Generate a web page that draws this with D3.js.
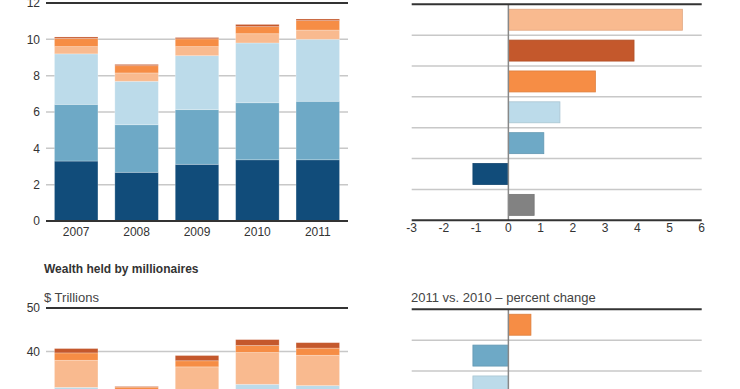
<!DOCTYPE html>
<html>
<head>
<meta charset="utf-8">
<script src="https://cdnjs.cloudflare.com/ajax/libs/d3/7.8.5/d3.min.js"></script>
<style>
  html, body { margin: 0; padding: 0; background: #fff; overflow: hidden; }
  svg { display: block; font-family: "Liberation Sans", Arial, sans-serif; }
</style>
</head>
<body>
<svg id="chart" width="740" height="389"></svg>
<script>
// Millionaires: count (top) and wealth held (bottom), stacked by group,
// plus 2011 vs. 2010 percent change bars on the right.

const years = ['2007', '2008', '2009', '2010', '2011'];
const seriesKeys = ['navy', 'steel', 'sky', 'peach', 'orange', 'rust'];

// number of millionaires, stacked bottom to top
const countNavy   = [3.30, 2.68, 3.12, 3.37, 3.37];
const countSteel  = [3.12, 2.62, 3.01, 3.14, 3.22];
const countSky    = [2.78, 2.39, 2.97, 3.29, 3.41];
const countPeach  = [0.40, 0.46, 0.50, 0.51, 0.51];
const countOrange = [0.45, 0.40, 0.43, 0.39, 0.52];
const countRust   = [0.08, 0.07, 0.07, 0.12, 0.09];
const countTicks  = [0, 2, 4, 6, 8, 10, 12];

// wealth held by millionaires, $ trillions
const wealthNavy   = [10.7, 8.3, 9.5, 10.2, 10.1];
const wealthSteel  = [11.7, 9.1, 10.7, 11.6, 11.4];
const wealthSky    = [9.4, 7.3, 9.8, 10.7, 10.7];
const wealthPeach  = [6.2, 5.8, 6.5, 7.3, 6.95];
const wealthOrange = [1.7, 1.35, 1.4, 1.6, 1.65];
const wealthRust   = [1.0, 0.15, 1.2, 1.35, 1.25];
const wealthTicks  = [0, 10, 20, 30, 40, 50];

// 2011 vs. 2010 percent change, one row per group
const countChangeKeys    = ['peach', 'rust', 'orange', 'sky', 'steel', 'navy', 'total'];
const countChangeValues  = [5.4, 3.9, 2.7, 1.6, 1.1, -1.1, 0.8];
const wealthChangeKeys   = ['orange', 'steel', 'sky', 'navy', 'peach', 'rust', 'total'];
const wealthChangeValues = [0.7, -1.1, -1.1, -1.4, -2.0, -2.5, -1.7];
const changeTicks = [-3, -2, -1, 0, 1, 2, 3, 4, 5, 6];

const colors = {
    navy: '#114c7a', steel: '#6ea9c6', sky: '#bcdbea',
    peach: '#f9ba8f', orange: '#f68d45', rust: '#c4582c', total: '#828282'
};

const svg = d3.select('#chart');
const viewHeight = +svg.attr('height');

const toRows = (arrays) => years.map((year, i) => {
    const row = { year };
    seriesKeys.forEach((k, j) => { row[k] = arrays[j][i]; });
    return row;
});

/**
 * Stacked column chart with gridlines.
 */
const drawStacked = (rows, ticks, domainMax, top, bottom, showYears) => {
    const left = 46, right = 348;
    const x = d3.scaleBand().domain(years).range([left, right]).paddingInner(0.28).paddingOuter(0.14);
    const y = d3.scaleLinear().domain([0, domainMax]).range([bottom, top]);

    const g = svg.append('g');

    // gridlines behind bars
    g.selectAll('.grid')
        .data(ticks.filter(t => t !== 0 && t !== domainMax))
        .enter().append('line')
        .attr('x1', left).attr('x2', right)
        .attr('y1', d => y(d)).attr('y2', d => y(d))
        .attr('stroke', '#c8c8c8')
        .attr('stroke-width', 1.5);

    const series = d3.stack().keys(seriesKeys)(rows);

    g.selectAll('.layer')
        .data(series)
        .enter().append('g')
        .attr('fill', d => colors[d.key])
        .selectAll('rect')
        .data(d => d)
        .enter().append('rect')
        .attr('x', d => x(d.data.year))
        .attr('width', x.bandwidth())
        .attr('y', d => y(d[1]))
        .attr('height', d => y(d[0]) - y(d[1]))
        .attr('stroke', '#fff')
        .attr('stroke-opacity', 0.3)
        .attr('stroke-width', 0.8);

    // top rule and baseline
    [domainMax, 0].forEach(v => {
        g.append('line')
            .attr('x1', left).attr('x2', right)
            .attr('y1', y(v)).attr('y2', y(v))
            .attr('stroke', '#333')
            .attr('stroke-width', 2);
    });

    // only the labels that land inside the window
    g.selectAll('.ylab')
        .data(ticks.filter(t => y(t) < viewHeight - 6))
        .enter().append('text')
        .attr('x', left - 6)
        .attr('y', d => y(d))
        .attr('dy', '0.35em')
        .attr('text-anchor', 'end')
        .attr('font-size', 12)
        .attr('fill', '#333')
        .text(d => d);

    if (showYears) {
        g.selectAll('.xlab')
            .data(years)
            .enter().append('text')
            .attr('x', d => x(d) + x.bandwidth() / 2)
            .attr('y', bottom + 14.5)
            .attr('text-anchor', 'middle')
            .attr('font-size', 12)
            .attr('fill', '#333')
            .text(d => d);
    }
};

/**
 * Horizontal percent-change bars around a zero line.
 */
const drawChange = (keys, values, top, bottom, showTicks) => {
    const left = 411.7, right = 701.7;
    const x = d3.scaleLinear().domain([changeTicks[0], changeTicks[changeTicks.length - 1]]).range([left, right]);
    const y = d3.scaleBand().domain(d3.range(keys.length)).range([top, bottom]).paddingInner(0.32).paddingOuter(0.16);
    const step = y.step();

    const g = svg.append('g');

    // row separators
    g.selectAll('.sep')
        .data(d3.range(1, keys.length))
        .enter().append('line')
        .attr('x1', left).attr('x2', right)
        .attr('y1', d => top + d * step).attr('y2', d => top + d * step)
        .attr('stroke', '#c8c8c8')
        .attr('stroke-width', 1.5);

    g.selectAll('.bar')
        .data(values)
        .enter().append('rect')
        .attr('x', d => x(Math.min(0, d)))
        .attr('width', d => Math.abs(x(d) - x(0)))
        .attr('y', (d, i) => y(i))
        .attr('height', y.bandwidth())
        .attr('fill', (d, i) => colors[keys[i]])
        .attr('stroke', (d, i) => d3.color(colors[keys[i]]).darker(0.3))
        .attr('stroke-width', 0.8);

    // zero line
    g.append('line')
        .attr('x1', x(0)).attr('x2', x(0))
        .attr('y1', top).attr('y2', bottom)
        .attr('stroke', '#888')
        .attr('stroke-width', 1.5);

    [top, bottom].forEach(v => {
        g.append('line')
            .attr('x1', left).attr('x2', right)
            .attr('y1', v).attr('y2', v)
            .attr('stroke', '#333')
            .attr('stroke-width', 2);
    });

    if (showTicks) {
        g.selectAll('.xlab')
            .data(changeTicks)
            .enter().append('text')
            .attr('x', d => x(d))
            .attr('y', bottom + 11.5)
            .attr('text-anchor', 'middle')
            .attr('font-size', 12)
            .attr('fill', '#333')
            .text(d => d);
    }
};

// top row
drawStacked(toRows([countNavy, countSteel, countSky, countPeach, countOrange, countRust]),
    countTicks, 12, 3, 221, true);
drawChange(countChangeKeys, countChangeValues, 4.3, 220.3, true);

// bottom row (cut off by the window)
const offset = 305;
svg.append('text')
    .attr('x', 44).attr('y', 273)
    .attr('font-size', 12).attr('font-weight', 'bold')
    .attr('fill', '#333')
    .text('Wealth held by millionaires');
svg.append('text')
    .attr('x', 44).attr('y', 301.5)
    .attr('font-size', 13)
    .attr('fill', '#444')
    .text('$ Trillions');
svg.append('text')
    .attr('x', 411).attr('y', 301.5)
    .attr('font-size', 13)
    .attr('fill', '#444')
    .text('2011 vs. 2010 \u2013 percent change');

drawStacked(toRows([wealthNavy, wealthSteel, wealthSky, wealthPeach, wealthOrange, wealthRust]),
    wealthTicks, 50, 3 + offset, 221 + offset, false);
drawChange(wealthChangeKeys, wealthChangeValues, 4.3 + offset, 220.3 + offset, false);
</script>
</body>
</html>
